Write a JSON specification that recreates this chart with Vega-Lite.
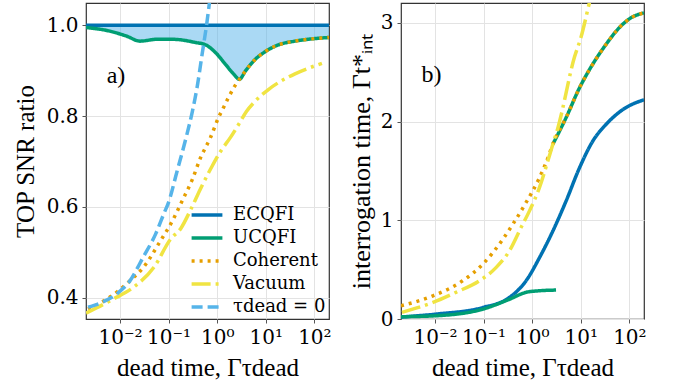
{
  "$schema": "https://vega.github.io/schema/vega-lite/v6.json",
  "padding": {"left": 12, "top": 2, "right": 5, "bottom": 5},
  "datasets": {
    "snr": [
      {"series": "ECQFI", "x": 0.002, "y": 1.0},
      {"series": "ECQFI", "x": 200, "y": 1.0},
      {"series": "UCQFI", "x": 0.002, "y": 0.995},
      {"series": "UCQFI", "x": 0.0062, "y": 0.987},
      {"series": "UCQFI", "x": 0.0137, "y": 0.976},
      {"series": "UCQFI", "x": 0.026, "y": 0.965},
      {"series": "UCQFI", "x": 0.056, "y": 0.969},
      {"series": "UCQFI", "x": 0.124, "y": 0.969},
      {"series": "UCQFI", "x": 0.36, "y": 0.962},
      {"series": "UCQFI", "x": 0.575, "y": 0.957},
      {"series": "UCQFI", "x": 0.92, "y": 0.94},
      {"series": "UCQFI", "x": 1.48, "y": 0.914},
      {"series": "UCQFI", "x": 2.2, "y": 0.892},
      {"series": "UCQFI", "x": 2.87, "y": 0.881},
      {"series": "UCQFI", "x": 3.8, "y": 0.899},
      {"series": "UCQFI", "x": 6.1, "y": 0.925},
      {"series": "UCQFI", "x": 9.8, "y": 0.942},
      {"series": "UCQFI", "x": 18.4, "y": 0.957},
      {"series": "UCQFI", "x": 40, "y": 0.965},
      {"series": "UCQFI", "x": 89, "y": 0.97},
      {"series": "UCQFI", "x": 200, "y": 0.973},
      {"series": "Coherent", "x": 0.0022, "y": 0.375},
      {"series": "Coherent", "x": 0.0054, "y": 0.397},
      {"series": "Coherent", "x": 0.0093, "y": 0.415},
      {"series": "Coherent", "x": 0.016, "y": 0.437},
      {"series": "Coherent", "x": 0.03, "y": 0.466},
      {"series": "Coherent", "x": 0.068, "y": 0.525},
      {"series": "Coherent", "x": 0.12, "y": 0.569},
      {"series": "Coherent", "x": 0.19, "y": 0.613},
      {"series": "Coherent", "x": 0.31, "y": 0.661},
      {"series": "Coherent", "x": 0.45, "y": 0.707},
      {"series": "Coherent", "x": 0.73, "y": 0.753},
      {"series": "Coherent", "x": 1.08, "y": 0.798},
      {"series": "Coherent", "x": 1.37, "y": 0.82},
      {"series": "Coherent", "x": 1.73, "y": 0.842},
      {"series": "Coherent", "x": 2.3, "y": 0.866},
      {"series": "Coherent", "x": 2.87, "y": 0.881},
      {"series": "Coherent", "x": 3.8, "y": 0.899},
      {"series": "Coherent", "x": 6.1, "y": 0.925},
      {"series": "Coherent", "x": 9.8, "y": 0.942},
      {"series": "Coherent", "x": 18.4, "y": 0.957},
      {"series": "Coherent", "x": 40, "y": 0.965},
      {"series": "Coherent", "x": 89, "y": 0.97},
      {"series": "Coherent", "x": 200, "y": 0.973},
      {"series": "Vacuum", "x": 0.002, "y": 0.366},
      {"series": "Vacuum", "x": 0.0073, "y": 0.397},
      {"series": "Vacuum", "x": 0.019, "y": 0.423},
      {"series": "Vacuum", "x": 0.05, "y": 0.467},
      {"series": "Vacuum", "x": 0.11, "y": 0.529},
      {"series": "Vacuum", "x": 0.18, "y": 0.553},
      {"series": "Vacuum", "x": 0.28, "y": 0.592},
      {"series": "Vacuum", "x": 0.45, "y": 0.639},
      {"series": "Vacuum", "x": 0.79, "y": 0.69},
      {"series": "Vacuum", "x": 1.17, "y": 0.722},
      {"series": "Vacuum", "x": 1.88, "y": 0.753},
      {"series": "Vacuum", "x": 2.78, "y": 0.782},
      {"series": "Vacuum", "x": 4.0, "y": 0.81},
      {"series": "Vacuum", "x": 6.1, "y": 0.833},
      {"series": "Vacuum", "x": 11.5, "y": 0.859},
      {"series": "Vacuum", "x": 18.4, "y": 0.874},
      {"series": "Vacuum", "x": 40, "y": 0.893},
      {"series": "Vacuum", "x": 143, "y": 0.916},
      {"series": "τdead = 0", "x": 0.0022, "y": 0.379},
      {"series": "τdead = 0", "x": 0.0043, "y": 0.39},
      {"series": "τdead = 0", "x": 0.0085, "y": 0.408},
      {"series": "τdead = 0", "x": 0.016, "y": 0.437},
      {"series": "τdead = 0", "x": 0.03, "y": 0.489},
      {"series": "τdead = 0", "x": 0.054, "y": 0.54},
      {"series": "τdead = 0", "x": 0.08, "y": 0.585},
      {"series": "τdead = 0", "x": 0.1, "y": 0.61},
      {"series": "τdead = 0", "x": 0.15, "y": 0.679},
      {"series": "τdead = 0", "x": 0.23, "y": 0.753},
      {"series": "τdead = 0", "x": 0.31, "y": 0.811},
      {"series": "τdead = 0", "x": 0.39, "y": 0.866},
      {"series": "τdead = 0", "x": 0.49, "y": 0.936},
      {"series": "τdead = 0", "x": 0.62, "y": 1.009},
      {"series": "τdead = 0", "x": 0.75, "y": 1.08}
    ],
    "tint": [
      {"series": "ECQFI", "seg": "a", "x": 0.002, "y": 0.02},
      {"series": "ECQFI", "seg": "a", "x": 0.0107, "y": 0.05},
      {"series": "ECQFI", "seg": "a", "x": 0.097, "y": 0.117},
      {"series": "ECQFI", "seg": "a", "x": 0.34, "y": 0.218},
      {"series": "ECQFI", "seg": "a", "x": 0.75, "y": 0.387},
      {"series": "ECQFI", "seg": "a", "x": 1.41, "y": 0.62},
      {"series": "ECQFI", "seg": "a", "x": 2.66, "y": 0.89},
      {"series": "ECQFI", "seg": "a", "x": 5.0, "y": 1.196},
      {"series": "ECQFI", "seg": "a", "x": 9.4, "y": 1.53},
      {"series": "ECQFI", "seg": "a", "x": 17.6, "y": 1.8},
      {"series": "ECQFI", "seg": "a", "x": 33, "y": 1.97},
      {"series": "ECQFI", "seg": "a", "x": 73, "y": 2.12},
      {"series": "ECQFI", "seg": "a", "x": 200, "y": 2.22},
      {"series": "UCQFI", "seg": "lo", "x": 0.002, "y": 0.023},
      {"series": "UCQFI", "seg": "lo", "x": 0.0107, "y": 0.033},
      {"series": "UCQFI", "seg": "lo", "x": 0.097, "y": 0.1},
      {"series": "UCQFI", "seg": "lo", "x": 0.34, "y": 0.2},
      {"series": "UCQFI", "seg": "lo", "x": 0.75, "y": 0.27},
      {"series": "UCQFI", "seg": "lo", "x": 1.41, "y": 0.286},
      {"series": "UCQFI", "seg": "lo", "x": 3.1, "y": 0.293},
      {"series": "UCQFI", "seg": "hi", "x": 2.66, "y": 1.77},
      {"series": "UCQFI", "seg": "hi", "x": 5.0, "y": 2.04},
      {"series": "UCQFI", "seg": "hi", "x": 9.4, "y": 2.34},
      {"series": "UCQFI", "seg": "hi", "x": 17.6, "y": 2.58},
      {"series": "UCQFI", "seg": "hi", "x": 33, "y": 2.78},
      {"series": "UCQFI", "seg": "hi", "x": 62, "y": 2.95},
      {"series": "UCQFI", "seg": "hi", "x": 108, "y": 3.05},
      {"series": "UCQFI", "seg": "hi", "x": 200, "y": 3.1},
      {"series": "Coherent", "seg": "a", "x": 0.002, "y": 0.134},
      {"series": "Coherent", "seg": "a", "x": 0.0091, "y": 0.235},
      {"series": "Coherent", "seg": "a", "x": 0.037, "y": 0.387},
      {"series": "Coherent", "seg": "a", "x": 0.097, "y": 0.556},
      {"series": "Coherent", "seg": "a", "x": 0.25, "y": 0.809},
      {"series": "Coherent", "seg": "a", "x": 0.4, "y": 0.96},
      {"series": "Coherent", "seg": "a", "x": 0.75, "y": 1.18},
      {"series": "Coherent", "seg": "a", "x": 1.41, "y": 1.43},
      {"series": "Coherent", "seg": "a", "x": 2.1, "y": 1.63},
      {"series": "Coherent", "seg": "a", "x": 2.66, "y": 1.77},
      {"series": "Coherent", "seg": "a", "x": 5.0, "y": 2.04},
      {"series": "Coherent", "seg": "a", "x": 9.4, "y": 2.34},
      {"series": "Coherent", "seg": "a", "x": 17.6, "y": 2.58},
      {"series": "Coherent", "seg": "a", "x": 33, "y": 2.78},
      {"series": "Coherent", "seg": "a", "x": 62, "y": 2.95},
      {"series": "Coherent", "seg": "a", "x": 108, "y": 3.05},
      {"series": "Coherent", "seg": "a", "x": 200, "y": 3.1},
      {"series": "Vacuum", "seg": "a", "x": 0.0021, "y": 0.067},
      {"series": "Vacuum", "seg": "a", "x": 0.0091, "y": 0.168},
      {"series": "Vacuum", "seg": "a", "x": 0.027, "y": 0.27},
      {"series": "Vacuum", "seg": "a", "x": 0.082, "y": 0.387},
      {"series": "Vacuum", "seg": "a", "x": 0.18, "y": 0.52},
      {"series": "Vacuum", "seg": "a", "x": 0.34, "y": 0.69},
      {"series": "Vacuum", "seg": "a", "x": 0.59, "y": 0.926},
      {"series": "Vacuum", "seg": "a", "x": 0.88, "y": 1.095},
      {"series": "Vacuum", "seg": "a", "x": 1.41, "y": 1.33},
      {"series": "Vacuum", "seg": "a", "x": 2.1, "y": 1.6},
      {"series": "Vacuum", "seg": "a", "x": 2.66, "y": 1.77},
      {"series": "Vacuum", "seg": "a", "x": 3.4, "y": 1.94},
      {"series": "Vacuum", "seg": "a", "x": 7.4, "y": 2.65},
      {"series": "Vacuum", "seg": "a", "x": 10.2, "y": 2.86},
      {"series": "Vacuum", "seg": "a", "x": 15, "y": 3.2},
      {"series": "Vacuum", "seg": "a", "x": 20, "y": 3.45}
    ]
  },
  "hconcat": [
    {
      "width": 243,
      "height": 316,
      "layer": [
        {
          "data": {"name": "snr"},
          "transform": [{"filter": "datum.series == 'UCQFI'"}],
          "mark": {"type": "area", "fill": "#56B4E9", "opacity": 0.5, "clip": true, "interpolate": "monotone"},
          "encoding": {
            "x": {"field": "x", "type": "quantitative"},
            "y": {"field": "y", "type": "quantitative"},
            "y2": {"datum": 1}
          }
        },
        {
          "data": {"name": "snr"},
          "mark": {"type": "line", "strokeWidth": 3.5, "clip": true, "interpolate": "monotone"},
          "encoding": {
            "x": {
              "field": "x", "type": "quantitative",
              "scale": {"type": "log", "domain": [0.002, 200], "nice": false},
              "axis": {
                "title": "dead time, Γτdead",
                "values": [0.01, 0.1, 1, 10, 100],
                "labelExpr": "datum.value < 0.05 ? '10⁻²' : datum.value < 0.5 ? '10⁻¹' : datum.value < 5 ? '10⁰' : datum.value < 50 ? '10¹' : '10²'",
                "labelFlush": false
              }
            },
            "y": {
              "field": "y", "type": "quantitative",
              "scale": {"domain": [0.353, 1.049], "nice": false, "zero": false},
              "axis": {"title": "TOP SNR ratio", "values": [0.4, 0.6, 0.8, 1.0], "format": ".1f"}
            },
            "color": {
              "field": "series", "type": "nominal", "sort": null,
              "scale": {
                "domain": ["ECQFI", "UCQFI", "Coherent", "Vacuum", "τdead = 0"],
                "range": ["#0072B2", "#009E73", "#E69F00", "#F0E442", "#56B4E9"]
              },
              "legend": {"title": null, "orient": "bottom-right", "labelFont": "DejaVu Serif", "labelFontSize": 18}
            },
            "strokeDash": {
              "field": "series", "type": "nominal", "sort": null,
              "scale": {
                "domain": ["ECQFI", "UCQFI", "Coherent", "Vacuum", "τdead = 0"],
                "range": [[1, 0], [1, 0], [3, 5], [19, 5, 3, 5], [11, 5]]
              },
              "legend": {"title": null, "orient": "bottom-right", "labelFont": "DejaVu Serif", "labelFontSize": 18}
            }
          }
        },
        {
          "data": {"values": [{"x": 0.0083, "y": 0.888, "t": "a)"}]},
          "mark": {"type": "text", "fontSize": 24, "font": "Liberation Serif"},
          "encoding": {
            "x": {"field": "x", "type": "quantitative"},
            "y": {"field": "y", "type": "quantitative"},
            "text": {"field": "t"}
          }
        }
      ]
    },
    {
      "width": 243,
      "height": 316,
      "layer": [
        {
          "data": {"name": "tint"},
          "mark": {"type": "line", "strokeWidth": 3.5, "clip": true, "interpolate": "monotone"},
          "encoding": {
            "x": {
              "field": "x", "type": "quantitative",
              "scale": {"type": "log", "domain": [0.002, 200], "nice": false},
              "axis": {
                "title": "dead time, Γτdead",
                "values": [0.01, 0.1, 1, 10, 100],
                "labelExpr": "datum.value < 0.05 ? '10⁻²' : datum.value < 0.5 ? '10⁻¹' : datum.value < 5 ? '10⁰' : datum.value < 50 ? '10¹' : '10²'",
                "labelFlush": false
              }
            },
            "y": {
              "field": "y", "type": "quantitative",
              "scale": {"domain": [0, 3.2], "nice": false},
              "axis": {"title": "interrogation time, Γt*ᵢₙₜ", "values": [0, 1, 2, 3], "format": "d", "titleFontSize": 26, "titlePadding": 6}
            },
            "detail": {"field": "seg"},
            "color": {
              "field": "series", "type": "nominal", "sort": null,
              "scale": {
                "domain": ["ECQFI", "UCQFI", "Coherent", "Vacuum", "τdead = 0"],
                "range": ["#0072B2", "#009E73", "#E69F00", "#F0E442", "#56B4E9"]
              },
              "legend": null
            },
            "strokeDash": {
              "field": "series", "type": "nominal", "sort": null,
              "scale": {
                "domain": ["ECQFI", "UCQFI", "Coherent", "Vacuum", "τdead = 0"],
                "range": [[1, 0], [1, 0], [3, 5], [19, 5, 3, 5], [11, 5]]
              },
              "legend": null
            }
          }
        },
        {
          "data": {"values": [{"x": 0.0085, "y": 2.47, "t": "b)"}]},
          "mark": {"type": "text", "fontSize": 24, "font": "Liberation Serif"},
          "encoding": {
            "x": {"field": "x", "type": "quantitative"},
            "y": {"field": "y", "type": "quantitative"},
            "text": {"field": "t"}
          }
        }
      ]
    }
  ],
  "spacing": 15,
  "resolve": {"legend": {"color": "independent", "strokeDash": "independent"}},
  "config": {
    "font": "Liberation Serif",
    "view": {"stroke": "#333333", "strokeWidth": 1.2},
    "axis": {
      "labelFont": "DejaVu Serif", "labelFontSize": 20, "labelColor": "black", "labelPadding": 4,
      "titleFont": "Liberation Serif", "titleFontSize": 25, "titleFontWeight": "normal", "titleColor": "black",
      "titlePadding": 8,
      "gridColor": "#e3e3e3", "gridWidth": 1, "domain": false,
      "tickColor": "#555555", "tickSize": 4
    },
    "legend": {
      "labelColor": "black",
      "symbolType": "M-1.4,0H1.4", "symbolSize": 484, "symbolStrokeWidth": 3.5, "symbolFillColor": "transparent",
      "rowPadding": 1, "labelOffset": 13, "offset": 3
    }
  }
}
